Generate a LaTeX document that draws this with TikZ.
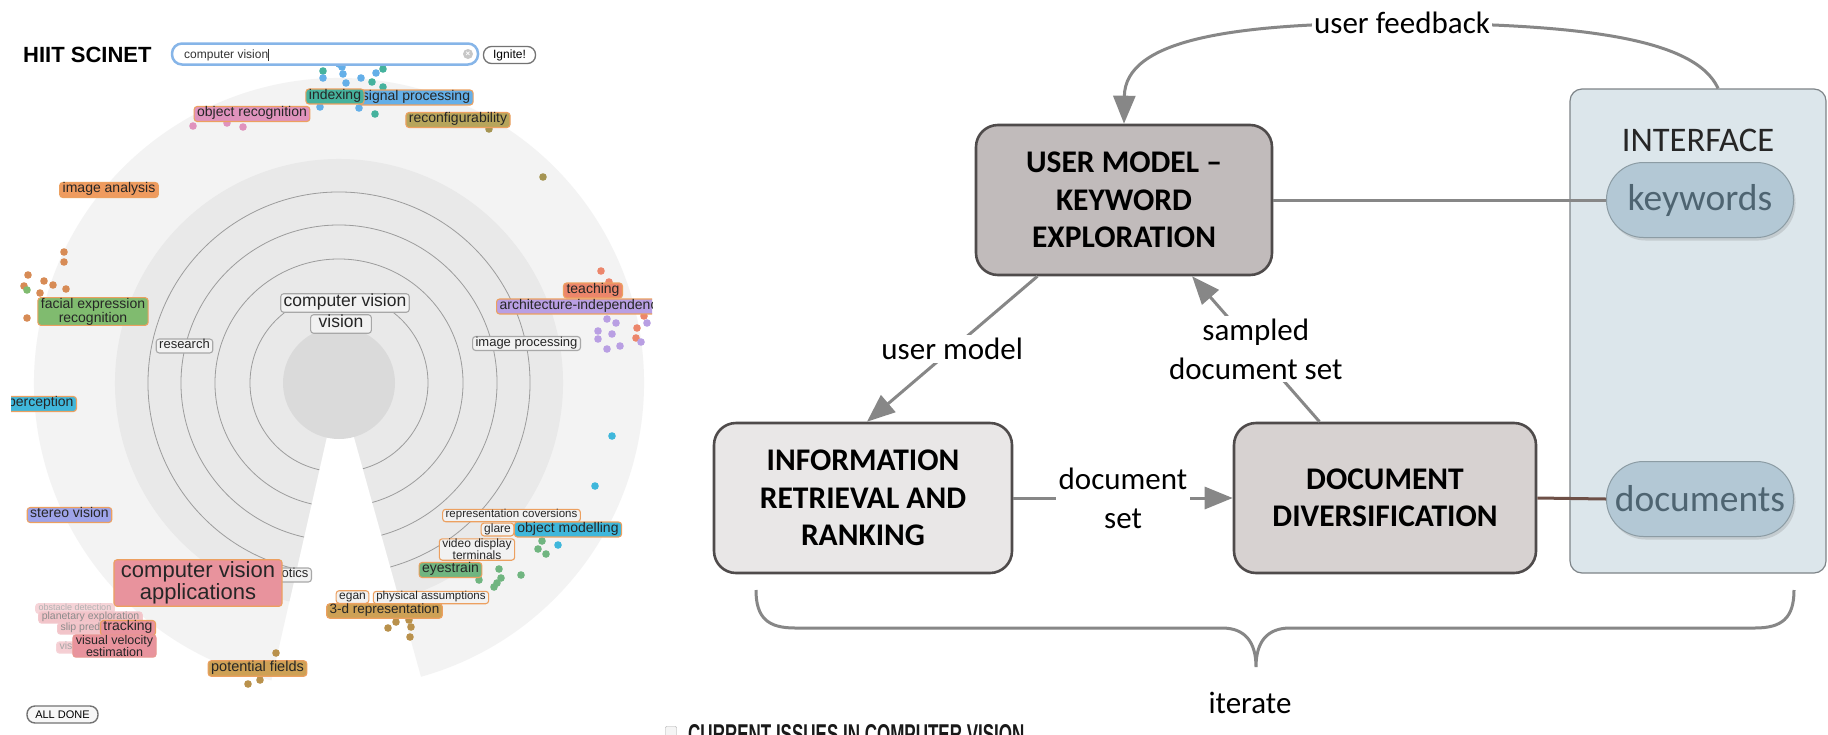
\documentclass[tikz,border=0pt]{standalone}
\usepackage{fontspec}
\setmainfont{Carlito}
\newfontfamily\arialf{Liberation Sans}
\usetikzlibrary{arrows.meta,calc,shadows}
\definecolor{umfill}{HTML}{C1BBBB}
\definecolor{irfill}{HTML}{E9E7E7}
\definecolor{ddfill}{HTML}{D7D2D1}
\definecolor{boxdraw}{HTML}{4F4B4B}
\definecolor{conngray}{HTML}{878787}
\definecolor{panelfill}{HTML}{DCE6EB}
\definecolor{paneldraw}{HTML}{7E8488}
\definecolor{pillfill}{HTML}{B3C8D5}
\definecolor{pilldraw}{HTML}{8C9CA4}
\definecolor{pilltext}{HTML}{4E6471}
\definecolor{brownline}{HTML}{6E5047}
\definecolor{discA}{HTML}{F3F3F3}
\definecolor{discB}{HTML}{E9E9E9}
\definecolor{discC}{HTML}{DADADA}
\definecolor{ringc}{HTML}{9C9C9C}
\definecolor{tagorange}{HTML}{ECA060}
\definecolor{taggray}{HTML}{A8A8A8}
\definecolor{tagwhite}{HTML}{F2F2F2}
\definecolor{cteal}{HTML}{45B29D}
\definecolor{cblue}{HTML}{64AFE8}
\definecolor{cpink}{HTML}{E093BD}
\definecolor{colive}{HTML}{B7A55B}
\definecolor{corange}{HTML}{EF9B5F}
\definecolor{cgreen}{HTML}{80BB6F}
\definecolor{csalmon}{HTML}{EC866B}
\definecolor{cpurple}{HTML}{B99FE3}
\definecolor{ccyan}{HTML}{3FB7DB}
\definecolor{cstereo}{HTML}{9EA3E9}
\definecolor{crose}{HTML}{E8939D}
\definecolor{ctan}{HTML}{CEA155}
\definecolor{ceye}{HTML}{70B580}
\definecolor{searchblue}{HTML}{86B5E8}
\begin{document}
\begin{tikzpicture}[x=1pt,y=-1pt,
  bigbox/.style={draw=boxdraw, line width=2.6pt, rounded corners=22pt, minimum width=296pt, minimum height=150pt, align=center, font=\bfseries\fontsize{31.5}{37.5}\selectfont},
  pill/.style={draw=pilldraw, line width=1pt, fill=pillfill, rounded corners=37pt, minimum width=187pt, minimum height=75pt, text=pilltext, font=\fontsize{37.5}{40}\selectfont, drop shadow={shadow xshift=2pt, shadow yshift=-3pt, opacity=0.25}},
  conn/.style={draw=conngray, line width=3pt, -{Triangle[length=28pt,width=22pt]}},
  lbl/.style={font=\fontsize{31}{39}\selectfont, align=center, fill=white, inner sep=3pt},
  tgbase/.style={rounded corners=3pt, draw=tagorange, line width=1.1pt, inner xsep=3pt, inner ysep=0.3pt, text=black!85},
  tg/.style={tgbase, font=\arialf\fontsize{#1}{#1}\selectfont, execute at begin node=\strut},
  tg/.default=14,
  tgtwo/.style={tgbase, align=center, font=\arialf\fontsize{#1}{#1}\selectfont},
  wt/.style={tg=#1, fill=tagwhite, draw=taggray},
  wo/.style={tg=#1, fill=tagwhite},
  dot/.style={radius=3.8pt},
]
\fill[white] (0,0) rectangle (1828,734);
\useasboundingbox (0,0) rectangle (1828,734);

% ================= LEFT PANEL (screenshot) =================
\begin{scope}
\clip (11,0) rectangle (652,734);
\coordinate (C) at (339,383);
\fill[discA] (C) -- +(102.8:305) arc[start angle=102.8,end angle=434.4,radius=305] -- cycle;
\fill[discB] (C) -- +(102.8:224) arc[start angle=102.8,end angle=434.4,radius=224] -- cycle;
\foreach \r in {89,124,158,191}
  \draw[ringc, line width=0.8pt] ($(C)+(102.8:\r)$) arc[start angle=102.8,end angle=434.4,radius=\r];
\fill[discC] (C) circle[radius=56];

% dots
\foreach \p in {(323,71),(383,69),(372,82),(383,87),(375,114)} \fill[cteal] \p circle[dot];
\foreach \p in {(323,78),(342,67),(343,74),(346,83),(361,78),(376,73),(320,107),(359,108),(339,64)} \fill[cblue] \p circle[dot];
\foreach \p in {(193,126),(227,123),(243,127)} \fill[cpink] \p circle[dot];
\foreach \p in {(489,129),(543,177)} \fill[colive!90!black] \p circle[dot];
\foreach \p in {(64,252),(64,262),(28,275),(44,281),(53,285),(24,286),(66,289),(40,293),(27,318)} \fill[corange!90!black] \p circle[dot];
\fill[cgreen] (27,290) circle[dot];
\foreach \p in {(601,271),(609,282),(644,316),(637,328),(636,338)} \fill[csalmon] \p circle[dot];
\foreach \p in {(607,319),(616,323),(647,323),(598,331),(612,334),(598,339),(620,346),(607,349),(641,342)} \fill[cpurple] \p circle[dot];
\foreach \p in {(612,436),(595,486),(558,545)} \fill[ccyan] \p circle[dot];
\foreach \p in {(542,541),(538,549),(546,554),(499,569),(521,575),(479,580),(501,578),(497,583),(494,587)} \fill[ceye] \p circle[dot];
\foreach \p in {(388,628),(396,622),(409,620),(411,627),(410,637),(276,653),(248,684),(260,680)} \fill[ctan!90!black] \p circle[dot];

% header
\node[anchor=west, font=\arialf\bfseries\fontsize{22}{22}\selectfont, inner sep=0pt] (title) at (23,55) {HIIT SCINET};
\node[draw=searchblue, line width=2.5pt, fill=white, rounded corners=10pt, minimum width=306pt, minimum height=21pt] (search) at (325,54) {};
\node[anchor=west, font=\arialf\fontsize{12}{12}\selectfont, inner sep=0pt, text=black!80] (stext) at (184,55) {computer vision\rule[-2.5pt]{0.8pt}{12pt}};
\node[circle, fill=black!22, inner sep=0pt, minimum size=10pt, text=white, font=\arialf\bfseries\fontsize{8}{8}\selectfont] (clr) at (468,54) {×};
\node[draw=black!55, line width=1.3pt, fill=white, rounded corners=8pt, minimum width=52pt, minimum height=17pt, font=\arialf\fontsize{12}{12}\selectfont, inner sep=0pt] (ignite) at (509.5,55) {Ignite!};

% tags (back to front)
\node[tg, fill=cblue] (sigp) at (416,97.5) {signal processing};
\node[tg, fill=cteal] (idx) at (335,96.5) {indexing};
\node[tg, fill=cpink] (objr) at (252,114) {object recognition};
\node[tg, fill=colive] (reconf) at (458,120) {reconfigurability};
\node[tg, fill=corange] (imga) at (109,190) {image analysis};
\node[tgtwo=14, fill=cgreen] (facial) at (93,311.5) {facial expression\\recognition};
\node[tg, fill=csalmon] (teach) at (593,290.5) {teaching};
\node[tg, fill=cpurple, anchor=west] (arch) at (496,306.5) {architecture-independence};
\node[wt=17.5] (cv) at (345,303) {computer vision};
\node[wt=17.5, inner xsep=8pt] (vis) at (341,324) {vision};
\node[wt=13] (res) at (184.5,346) {research};
\node[wt=13] (imgp) at (526.5,343.5) {image processing};
\node[tg, fill=ccyan, anchor=east] (perc) at (77,404) {perception};
\node[tg, fill=cstereo] (stereo) at (69.5,515) {stereo vision};
\node[wt=13, anchor=east] (robot) at (312,575) {robotics};
\node[tgtwo=22, fill=crose, inner xsep=7pt, inner ysep=2pt] (cva) at (198,583) {computer vision\\applications};
\node[tg=9, fill=crose!40, draw=crose!40, text=black!30] (obst) at (75,608.5) {obstacle detection};
\node[tg=10.5, fill=crose!55, draw=crose!50, text=black!45] (plan) at (90.5,617.5) {planetary exploration};
\node[tg=10.5, fill=crose!55, draw=crose!50, text=black!45, anchor=west] (slip) at (57,628.5) {slip prediction};
\node[tg=10.5, fill=crose!45, draw=crose!40, text=black!35, anchor=west] (vodo) at (56,647.5) {visual odometry};
\node[tg=14, fill=crose] (track) at (128,628) {tracking};
\node[tgtwo=12.5, fill=crose, draw=crose!80!tagorange] (vvel) at (114.5,646) {visual velocity\\estimation};
\node[tg=14.5, fill=ctan] (potf) at (257.5,668.5) {potential fields};
\node[wo=11.5] (repc) at (511.5,515.5) {representation coversions};
\node[wo=12] (glare) at (497.5,529.5) {glare};
\node[tg, fill=ccyan] (objm) at (568,529.5) {object modelling};
\node[tgtwo=12, fill=tagwhite] (vdt) at (477,549.5) {video display\\terminals};
\node[tg=14, fill=ceye] (eye) at (450.5,570) {eyestrain};
\node[wo=12] (egan) at (352.5,597) {egan};
\node[wo=11.5] (phys) at (431,597.5) {physical assumptions};
\node[tg=13.5, fill=ctan] (threed) at (384.5,611) {3-d representation};
\node[draw=black!55, line width=1.4pt, fill=black!3, rounded corners=8pt, minimum width=71pt, minimum height=17pt, inner sep=0pt, font=\arialf\fontsize{11}{11}\selectfont] (done) at (62.5,714.5) {ALL DONE};
\end{scope}

% bottom cut-off heading
\begin{scope}
\clip (0,0) rectangle (1828,734);
\node[draw=black!35, fill=black!4, minimum size=11pt, inner sep=0pt, rounded corners=1pt] (chk) at (671,732) {};
\begin{scope}[shift={(688,743)}, yscale=1.6]
\node[transform shape, anchor=base west, inner sep=0pt, font=\arialf\bfseries\fontsize{17}{17}\selectfont, text=black!90] (cur) at (0,0) {CURRENT ISSUES IN COMPUTER VISION};
\end{scope}
\end{scope}

% ================= RIGHT DIAGRAM =================
\node[draw=paneldraw, line width=1.2pt, fill=panelfill, rounded corners=12pt, minimum width=256pt, minimum height=484pt] (panel) at (1698,331) {};
\node[font=\fontsize{34.5}{38}\selectfont, text=black!85] (ifc) at (1698,140) {INTERFACE};
\node[pill] (kw) at (1700,200) {keywords};
\node[pill] (doc) at (1700,499) {documents};

\node[bigbox, fill=umfill] (um) at (1124,200) {USER MODEL –\\KEYWORD\\EXPLORATION};
\node[bigbox, fill=irfill, minimum width=298pt] (ir) at (863,498) {INFORMATION\\RETRIEVAL AND\\RANKING};
\node[bigbox, fill=ddfill, minimum width=302pt] (dd) at (1385,498) {DOCUMENT\\DIVERSIFICATION};

\draw[draw=conngray, line width=3pt] (um.east) -- (kw.west);
\draw[draw=brownline, line width=3pt] (dd.east) -- (doc.west);

\coordinate (fbstart) at ($(panel.north west)!0.578!(panel.north east)$);
\draw[conn] (fbstart) .. controls (1695,38) and (1580,24) .. (1402,23)
  node[lbl, inner sep=2pt] (fb) {user feedback}
  .. controls (1230,23) and (1125,40) .. (um.north);

\draw[conn] ($(um.south west)!0.21!(um.south east)$) -- node[lbl] (uml) {user model} ($(ir.north)+(4,0)$);
\draw[conn] ($(dd.north west)!0.285!(dd.north east)$) -- node[lbl] (sdl) {sampled\\document set} ($(um.south west)!0.728!(um.south east)$);
\draw[conn] (ir.east) -- node[lbl] (dsl) {document\\set} (dd.west);

% iterate brace
\coordinate (bl) at (756,590);
\coordinate (bm) at (1256,667);
\coordinate (br) at (1794,590);
\draw[draw=conngray, line width=3pt] (bl) .. controls (756,618) and (768,628) .. (795,628) -- (1222,628)
  .. controls (1245,628) and (1256,642) .. (bm)
  .. controls (1256,642) and (1267,628) .. (1290,628) -- (1755,628)
  .. controls (1782,628) and (1794,618) .. (br);
\node[font=\fontsize{31}{36}\selectfont] (iter) at (1250,703) {iterate};
\end{tikzpicture}
\end{document}
